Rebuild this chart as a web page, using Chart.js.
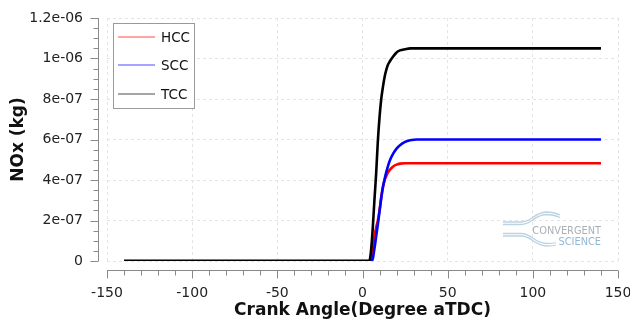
<!DOCTYPE html>
<html>
<head>
<meta charset="utf-8">
<script src="https://cdn.jsdelivr.net/npm/chart.js@4/dist/chart.umd.min.js"></script>
<style>
  html, body { margin: 0; padding: 0; background: #fff; }
  #wrap { width: 630px; height: 328px; }
</style>
</head>
<body>
<div id="wrap"><canvas id="nox-chart" width="630" height="328"></canvas></div>
<script>

/* DATOS */
let crankAngle = [-140, 0, 4, 5, 6, 7, 8, 9, 10, 11, 12, 13, 14, 15, 16, 18, 20, 22, 25, 28, 32, 140]

let noxHCC = [0, 0, 0, 0, 0.5e-7, 1.2e-7, 1.65e-7, 2.0e-7, 2.5e-7, 3.15e-7, 3.65e-7, 4.0e-7, 4.2e-7, 4.38e-7, 4.5e-7, 4.67e-7, 4.76e-7, 4.81e-7, 4.83e-7, 4.83e-7, 4.83e-7, 4.83e-7]
let noxSCC = [0, 0, 0, 0, 0.1e-7, 0.6e-7, 1.2e-7, 1.8e-7, 2.45e-7, 3.1e-7, 3.65e-7, 4.05e-7, 4.4e-7, 4.7e-7, 4.95e-7, 5.3e-7, 5.55e-7, 5.72e-7, 5.88e-7, 5.96e-7, 6.0e-7, 6.0e-7]
let noxTCC = [0, 0, 0, 0.5e-7, 1.6e-7, 3.0e-7, 4.3e-7, 5.9e-7, 7.1e-7, 8.0e-7, 8.6e-7, 9.1e-7, 9.45e-7, 9.7e-7, 9.85e-7, 1.01e-6, 1.03e-6, 1.04e-6, 1.046e-6, 1.05e-6, 1.05e-6, 1.05e-6]

let seriesNames = ["HCC", "SCC", "TCC"]
let seriesColors = ["#ff0000", "#0000ff", "#000000"]

let yTickValues = [0, 2e-7, 4e-7, 6e-7, 8e-7, 1e-6, 1.2e-6]
let yTickLabels = ["0", "2e-07", "4e-07", "6e-07", "8e-07", "1e-06", "1.2e-06"]

let xTitle = "Crank Angle(Degree aTDC)"
let yTitle = "NOx (kg)"


let ctxNox = document.getElementById("nox-chart").getContext("2d")

Chart.defaults.font.family = "'DejaVu Sans', Verdana, sans-serif"
Chart.defaults.color = "#222"

function puntos(valores) {
    let out = []
    for (let i = 0; i < crankAngle.length; i++) {
        out.push({ x: crankAngle[i], y: valores[i] })
    }
    return out
}

/* ejes separados del area de datos, con marcas menores */
const ejesPlugin = {
    id: "ejes",
    afterDraw(chart) {
        let c = chart.ctx
        let area = chart.chartArea
        let sx = chart.scales.x
        let sy = chart.scales.y
        let gap = 9

        c.save()
        c.strokeStyle = "#8a8a8a"
        c.lineWidth = 1

        // eje y
        let ax = Math.round(area.left - gap) + 0.5
        c.beginPath()
        c.moveTo(ax, sy.getPixelForValue(1.2e-6))
        c.lineTo(ax, sy.getPixelForValue(0))
        for (let k = 0; k <= 24; k++) {
            let py = Math.round(sy.getPixelForValue(k * 5e-8)) + 0.5
            let len = (k % 4 == 0) ? 8 : 5
            c.moveTo(ax, py)
            c.lineTo(ax - len, py)
        }
        c.stroke()

        // eje x
        let ay = Math.round(area.bottom + gap) + 0.5
        c.beginPath()
        c.moveTo(sx.getPixelForValue(-150), ay)
        c.lineTo(sx.getPixelForValue(150), ay)
        for (let v = -150; v <= 150; v += 10) {
            let px = Math.round(sx.getPixelForValue(v)) + 0.5
            let len = (v % 50 == 0) ? 8 : 5
            c.moveTo(px, ay)
            c.lineTo(px, ay + len)
        }
        c.stroke()
        c.restore()
    }
}

/* leyenda en recuadro dentro del grafico */
const leyendaPlugin = {
    id: "leyendaCaja",
    afterDraw(chart) {
        let c = chart.ctx
        let left = 113.5, top = 23.5, w = 81, h = 85
        c.save()
        c.fillStyle = "#fff"
        c.fillRect(left, top, w, h)
        c.strokeStyle = "#9a9a9a"
        c.lineWidth = 1
        c.strokeRect(left, top, w, h)

        let filas = [37, 65, 94]
        c.font = "13.5px 'DejaVu Sans'"
        c.textBaseline = "middle"
        for (let i = 0; i < seriesNames.length; i++) {
            c.strokeStyle = seriesColors[i]
            c.lineWidth = 1.2
            c.globalAlpha = 0.7
            c.beginPath()
            c.moveTo(118, filas[i])
            c.lineTo(155, filas[i])
            c.stroke()
            c.globalAlpha = 1
            c.fillStyle = "#111"
            c.fillText(seriesNames[i], 161, filas[i] + 1)
        }
        c.restore()
    }
}

/* marca de agua */
const logoPlugin = {
    id: "logo",
    beforeDatasetsDraw(chart) {
        let c = chart.ctx
        c.save()
        c.lineWidth = 1.3
        c.strokeStyle = "#bcd3e4"
        for (let d = 0; d < 2; d++) {
            let o = d * 2.5
            c.beginPath()
            c.moveTo(503, 222 + o)
            c.lineTo(521, 222 + o)
            c.bezierCurveTo(532, 222 + o, 533, 213 + o, 546, 212 + o)
            c.bezierCurveTo(552, 212 + o, 556, 213 + o, 560, 215 + o)
            c.stroke()
            c.beginPath()
            c.moveTo(503, 236 - o)
            c.lineTo(521, 236 - o)
            c.bezierCurveTo(532, 236 - o, 533, 245 - o, 546, 246 - o)
            c.bezierCurveTo(550, 246 - o, 553, 246 - o, 556, 245 - o)
            c.stroke()
        }
        c.font = "9.8px 'DejaVu Sans'"
        c.textBaseline = "middle"
        c.textAlign = "right"
        c.fillStyle = "#aab0b6"
        c.fillText("CONVERGENT", 601, 231)
        c.fillStyle = "#93b8d3"
        c.fillText("SCIENCE", 601, 242)
        c.restore()
    }
}

const cargarNoxChart = () => {
    let datasets = []
    let series = [noxHCC, noxSCC, noxTCC]
    for (let i = 0; i < series.length; i++) {
        datasets.push({
            label: seriesNames[i],
            data: puntos(series[i]),
            borderColor: seriesColors[i],
            borderWidth: 2.6,
            pointRadius: 0,
            fill: false,
            cubicInterpolationMode: "monotone",
            order: series.length - i
        })
    }

    let config = {
        type: "line",
        data: { datasets: datasets },
        plugins: [logoPlugin, ejesPlugin, leyendaPlugin],
        options: {
            responsive: false,
            animation: false,
            layout: { padding: { top: 18, right: 12, left: 0, bottom: 0 } },
            plugins: {
                legend: { display: false },
                tooltip: { enabled: false }
            },
            scales: {
                x: {
                    type: "linear",
                    min: -150,
                    max: 150,
                    ticks: { stepSize: 50, padding: 24, font: { size: 14 }, color: "#222" },
                    grid: { color: "#e4e4e4", drawTicks: false },
                    border: { display: false, dash: [3, 3] },
                    title: { display: true, text: xTitle, font: { size: 17, weight: "bold" }, color: "#111", padding: { top: 0, bottom: 7 } },
                    afterFit: (s) => {
                        s.height = 67
                        s.paddingLeft = 0
                        s.paddingRight = 0
                    }
                },
                y: {
                    min: 0,
                    max: 1.2e-6,
                    afterBuildTicks: (s) => { s.ticks = yTickValues.map(v => ({ value: v })) },
                    ticks: {
                        padding: 24,
                        font: { size: 14 },
                        color: "#222",
                        callback: (v, i) => yTickLabels[i]
                    },
                    grid: { color: "#e4e4e4", drawTicks: false },
                    border: { display: false, dash: [3, 3] },
                    title: { display: true, text: yTitle, font: { size: 17, weight: "bold" }, color: "#111", padding: { top: 8, bottom: 0 } },
                    afterFit: (s) => {
                        s.width = 107
                        s.paddingTop = 0
                        s.paddingBottom = 0
                    }
                }
            }
        }
    }
    return new Chart(ctxNox, config)
}

cargarNoxChart()
</script>
</body>
</html>
